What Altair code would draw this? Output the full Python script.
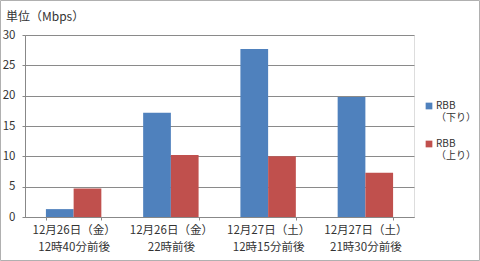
import altair as alt
import pandas as pd

categories = ["12月26日（金）|12時40分前後", "12月26日（金）|22時前後",
              "12月27日（土）|12時15分前後", "12月27日（土）|21時30分前後"]
series = ["RBB|（下り）", "RBB|（上り）"]
down = [1.3, 17.2, 27.7, 19.8]
up = [4.7, 10.2, 10.0, 7.3]
colors = ["#4F81BD", "#C0504D"]
y_ticks = [0, 5, 10, 15, 20, 25, 30]

rows = []
for c, d, u in zip(categories, down, up):
    rows.append({"cat": c, "series": series[0], "value": d})
    rows.append({"cat": c, "series": series[1], "value": u})
df = pd.DataFrame(rows)

FONT = "Noto Sans CJK JP"

bars = alt.Chart(df).mark_bar().encode(
    x=alt.X("cat:N", sort=categories, title=None,
            scale=alt.Scale(paddingInner=0.43, paddingOuter=0.215),
            axis=alt.Axis(labelAngle=0, tickBand="extent", tickSize=3,
                          labelExpr="split(datum.label, '|')",
                          labelLineHeight=17, labelPadding=4,
                          labelFontSize=11.5, labelColor="#333333",
                          domainColor="#888888", tickColor="#888888",
                          labelFont=FONT, grid=False)),
    xOffset=alt.XOffset("series:N", sort=series),
    y=alt.Y("value:Q", title=None,
            scale=alt.Scale(domain=[0, 30]),
            axis=alt.Axis(values=y_ticks, tickSize=3, labelPadding=7,
                          labelFontSize=11.5, labelColor="#333333",
                          domainColor="#888888", tickColor="#888888",
                          gridColor="#8a8a8a", gridWidth=1,
                          labelFont=FONT)),
    color=alt.Color("series:N", sort=series,
                    scale=alt.Scale(domain=series, range=colors),
                    legend=alt.Legend(title=None, orient="none",
                                      legendX=399, legendY=66,
                                      symbolType="square", symbolSize=45,
                                      symbolStrokeWidth=0,
                                      labelExpr="split(datum.label, '|')",
                                      labelFontSize=10,
                                      labelFont=FONT, labelColor="#333333",
                                      labelOffset=2, rowPadding=16)),
)

frame = alt.Chart(pd.DataFrame({"a": [0]})).mark_rect(
    fill=None, stroke="#b0b0b0", strokeWidth=1
).encode(x=alt.value(-24.5), x2=alt.value(454.5),
         y=alt.value(-34.5), y2=alt.value(225.5))

chart = alt.layer(bars, frame).properties(
    width=389, height=182,
    autosize=alt.AutoSizeParams(type="none"),
    padding={"left": 25, "top": 35, "right": 66, "bottom": 44},
    title=alt.TitleParams("単位（Mbps）", anchor="start", frame="group",
                          dx=-19, offset=0, dy=24, fontSize=12, fontWeight="normal",
                          font=FONT, color="#333333"),
).configure_view(stroke=None).configure(background="white")

chart.save("out.html", embed_options={"renderer": "svg", "actions": False})
